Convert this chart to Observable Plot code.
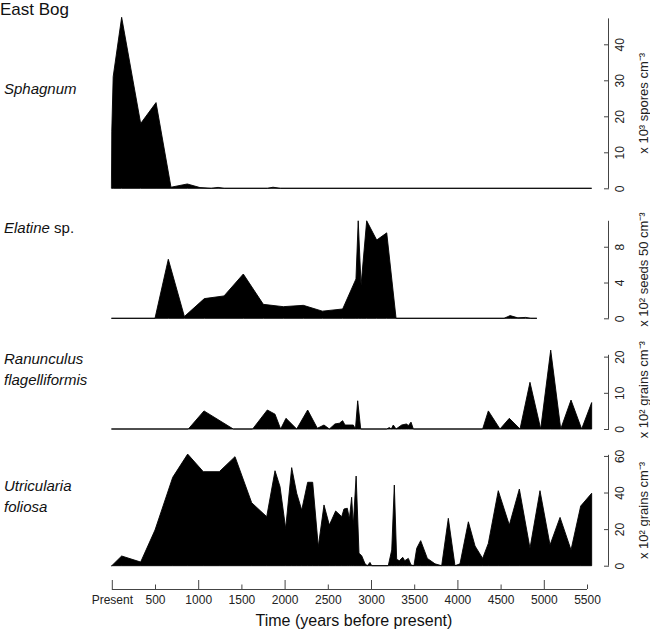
<!DOCTYPE html>
<html>
<head>
<meta charset="utf-8">
<script src="https://cdn.jsdelivr.net/npm/d3@7"></script>
<script src="https://cdn.jsdelivr.net/npm/@observablehq/plot@0.6"></script>
<style>
  html, body { margin: 0; padding: 0; background: #fff; }
  #chart { position: relative; width: 650px; height: 632px; font-family: "Liberation Sans", Arial, sans-serif; color: #111; }
  #chart > svg, #chart > div.lbl { position: absolute; left: 0; }
  .lbl { font-size: 15px; line-height: 21px; white-space: nowrap; }
  .lbl i { font-style: italic; }
  .title { font-size: 17px; line-height: 17px; }
</style>
</head>
<body>
<div id="chart"></div>
<script>
// ---------------- data (years before present, concentration) ----------------
const sphagnumYears  = [0, 16, 114, 334, 512, 685, 874, 1021, 1150, 1230, 1300, 1800, 1866, 1950, 5554];
const sphagnumValues = [16, 31, 47.5, 18, 23.8, 0.3, 1.2, 0.2, 0, 0.25, 0, 0, 0.3, 0, 0];

const elatineYears  = [0, 500, 654, 840, 1071, 1299, 1522, 1754, 1985, 2217, 2437, 2672, 2826, 2852, 2885, 2950, 3066, 3182, 3290, 4540, 4610, 4700, 4790, 4850, 4920];
const elatineValues = [0, 0, 6.6, 0.2, 2.2, 2.5, 4.95, 1.56, 1.3, 1.45, 0.8, 1.04, 4.4, 10.9, 3.7, 10.9, 8.75, 9.55, 0, 0, 0.3, 0.05, 0.1, 0, 0];

const ranunculusYears  = [0, 886, 1067, 1406, 1630, 1800, 1889, 1954, 2016, 2140, 2267, 2379, 2456, 2518, 2583, 2634, 2672, 2699, 2795, 2820, 2846, 2881, 3182, 3212, 3235, 3258, 3290, 3355, 3413, 3432, 3463, 3490, 4292, 4358, 4493, 4601, 4725, 4840, 4964, 5080, 5196, 5315, 5438, 5554];
const ranunculusValues = [0, 0, 5.0, 0, 0, 5.25, 4.1, 0, 2.95, 0, 5.25, 0.2, 1.1, 0, 1.4, 1.6, 2.3, 1.1, 1.1, 0, 7.8, 0, 0, 0.4, 0, 1.1, 0, 1.1, 1.4, 0.9, 1.9, 0, 0, 5.0, 0, 2.95, 0, 12.9, 0, 21.8, 0, 8.0, 0, 7.3];

const utriculariaYears  = [0, 114, 334, 500, 705, 878, 1059, 1244, 1426, 1619, 1793, 1889, 1947, 2012, 2082, 2140, 2198, 2267, 2325, 2390, 2456, 2518, 2591, 2661, 2687, 2726, 2750, 2776, 2795, 2828, 2861, 2892, 2931, 2958, 2988, 3008, 3200, 3240, 3270, 3297, 3328, 3367, 3390, 3432, 3463, 3497, 3529, 3575, 3652, 3741, 3818, 3895, 3972, 4030, 4127, 4204, 4292, 4358, 4473, 4601, 4717, 4840, 4956, 5072, 5188, 5315, 5427, 5554];
const utriculariaValues = [0, 5.3, 2.0, 19.5, 48.3, 61, 51.4, 51.4, 59.6, 34.4, 26.8, 51.9, 43.2, 20.4, 53.6, 39.6, 30.4, 45.6, 45.6, 10.4, 33.2, 22.2, 29.9, 26.8, 31, 31.4, 25.7, 37.4, 22.2, 49, 6.8, 5.5, 1.0, 0, 1.8, 0, 0, 8.6, 44.1, 3.5, 2.7, 4.6, 2.7, 4.0, 0.4, 0, 9.5, 13.7, 4.0, 1.0, 0, 25.9, 0, 1.0, 24, 10.8, 4.0, 12.2, 41, 22.2, 41.9, 9.5, 41, 11.3, 26.4, 8.6, 32.6, 39.6];

const panelNames  = ["Sphagnum", "Elatine", "Ranunculus flagelliformis", "Utricularia foliosa"];
const panelUnits  = ["x 10³ spores cm⁻³", "x 10² seeds 50 cm⁻³", "x 10² grains cm⁻³", "x 10² grains cm⁻³"];
const panelTicks  = [[0, 10, 20, 30, 40], [0, 4, 8], [0, 10, 20], [0, 20, 40, 60]];
const panelAxisTop = [47.2, 10.9, 20.5, 60.6];
const panelDomainMax = [47.5, 11, 22, 61];

const xMajorTicks = [0, 1000, 2000, 3000, 4000, 5000];
const xMinorTicks = [500, 1500, 2500, 3500, 4500, 5500];
const xTitle = "Time (years before present)";
const chartTitle = "East Bog";

// ---------------- layout ----------------
const layout = [
  {top: 0,   height: 200, mt: 17.3, mb: 11.7},
  {top: 200, height: 130, mt: 19.9, mb: 11.7},
  {top: 330, height: 110, mt: 19.4, mb: 11.0},
  {top: 440, height: 135, mt: 14.1, mb: 9.3}
];
const ML = 111.8, MR = 63, W = 650;
const FONT = "'Liberation Sans', Arial, Helvetica, sans-serif";
const AXIS = "#444";

const series = [
  [sphagnumYears, sphagnumValues],
  [elatineYears, elatineValues],
  [ranunculusYears, ranunculusValues],
  [utriculariaYears, utriculariaValues]
];

const chart = document.getElementById("chart");

series.forEach(([xs, vs], i) => {
  const data = xs.map((x, j) => ({year: x, value: vs[j]}));
  const L = layout[i];
  const svg = Plot.plot({
    width: W, height: L.height,
    marginLeft: ML, marginRight: MR, marginTop: L.mt, marginBottom: L.mb,
    style: {fontFamily: FONT, background: "transparent", overflow: "visible", color: "#111"},
    x: {domain: [0, 5500], axis: null},
    y: {domain: [0, panelDomainMax[i]], label: null},
    marks: [
      Plot.areaY(data, {x: "year", y: "value", fill: "#000", stroke: "#000", strokeWidth: 0.9, curve: "linear"}),
      Plot.axisY(panelTicks[i], {anchor: "right", tickSize: 5, dx: 16, tickFormat: () => "", stroke: AXIS, label: null}),
      Plot.ruleX([5500], {y1: 0, y2: panelAxisTop[i], dx: 21, stroke: AXIS}),
      Plot.text(panelTicks[i], {y: d => d, text: d => String(d), frameAnchor: "right", textAnchor: "middle", lineAnchor: "middle", dx: 33, rotate: -90, fontSize: 12, fill: "#222"}),
      Plot.text([panelUnits[i]], {text: d => d, frameAnchor: "right", textAnchor: "middle", lineAnchor: "middle", dx: 56, rotate: -90, fontSize: 13, fill: "#222"})
    ]
  });
  svg.style.top = L.top + "px";
  chart.appendChild(svg);
});

// x axis
const xAxis = Plot.plot({
  width: W, height: 57,
  marginLeft: ML, marginRight: MR, marginTop: 5, marginBottom: 43,
  style: {fontFamily: FONT, background: "transparent", overflow: "visible"},
  x: {domain: [0, 5500], axis: null},
  y: {domain: [0, 1], axis: null},
  marks: [
    Plot.ruleY([0], {x1: 0, x2: 5500, stroke: AXIS}),
    Plot.tickX(xMajorTicks, {x: d => d, stroke: AXIS}),
    Plot.tickX(xMinorTicks, {x: d => d, stroke: AXIS, insetTop: 4.5}),
    Plot.text(xMajorTicks.concat(xMinorTicks), {x: d => d, text: d => d === 0 ? "Present" : String(d), frameAnchor: "bottom", lineAnchor: "middle", dy: 11, fontSize: 12, fill: "#222"}),
    Plot.text([xTitle], {text: d => d, frameAnchor: "bottom", lineAnchor: "middle", dx: 4, dy: 31, fontSize: 16, fill: "#111"})
  ]
});
xAxis.style.top = "575px";
chart.appendChild(xAxis);

// labels
function addLabel(html, top, cls) {
  const d = document.createElement("div");
  d.className = "lbl" + (cls ? " " + cls : "");
  d.style.top = top + "px";
  d.style.left = "4px";
  d.innerHTML = html;
  chart.appendChild(d);
}
const t = document.createElement("div");
t.className = "lbl title";
t.style.top = "1px"; t.style.left = "0px";
t.textContent = chartTitle;
chart.appendChild(t);

addLabel("<i>" + panelNames[0] + "</i>", 78);
addLabel("<i>" + panelNames[1] + "</i> sp.", 217);
addLabel("<i>Ranunculus</i><br><i>flagelliformis</i>", 348);
addLabel("<i>Utricularia</i><br><i>foliosa</i>", 475);
</script>
</body>
</html>
